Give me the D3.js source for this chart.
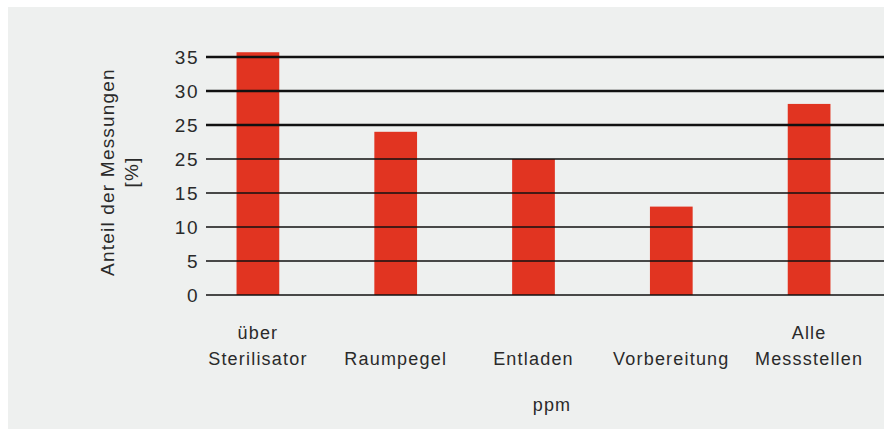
<!DOCTYPE html>
<html>
<head>
<meta charset="utf-8">
<script src="https://cdn.jsdelivr.net/npm/d3@7"></script>
<style>
  html, body { margin: 0; padding: 0; background: #fff; }
  text { font-family: "Liberation Sans", Arial, sans-serif; fill: #2a2a2a; letter-spacing: 1.2px; }
</style>
</head>
<body>
<div id="chart"></div>
<script>
// chart data
const categories = [["über", "Sterilisator"], ["Raumpegel"], ["Entladen"], ["Vorbereitung"], ["Alle", "Messstellen"]];
const values = [35.7, 24, 20, 13, 28.1];
const tickValues = [0, 5, 10, 15, 20, 25, 30, 35];
const tickLabels = ["0", "5", "10", "15", "25", "25", "30", "35"];
const thickTicks = [25, 30, 35];

const width = 884;
const height = 429;

const svg = d3.select("#chart").append("svg")
    .attr("width", width)
    .attr("height", height);

// grey panel
svg.append("rect")
    .attr("x", 8).attr("y", 7)
    .attr("width", width - 8).attr("height", height - 7)
    .attr("fill", "#eef0ef");

const x = d3.scaleBand()
    .domain(d3.range(categories.length))
    .range([189, 878])
    .paddingInner(0.69)
    .paddingOuter(0.345);

const y = d3.scaleLinear()
    .domain([0, 35])
    .range([295, 57]);

// bars
svg.selectAll(".bar")
    .data(values)
    .enter().append("rect")
    .attr("class", "bar")
    .attr("x", (d, i) => x(i))
    .attr("width", x.bandwidth())
    .attr("y", d => y(d))
    .attr("height", d => y(0) - y(d))
    .attr("fill", "#e13421");

// gridlines on top of the bars
svg.selectAll(".grid")
    .data(tickValues)
    .enter().append("line")
    .attr("class", "grid")
    .attr("x1", 206).attr("x2", width)
    .attr("y1", d => y(d)).attr("y2", d => y(d))
    .attr("stroke", "#111")
    .attr("stroke-width", d => thickTicks.includes(d) ? 2.6 : 1.4);

// tick labels
svg.selectAll(".tick-label")
    .data(tickValues)
    .enter().append("text")
    .attr("class", "tick-label")
    .attr("x", 199)
    .attr("y", d => y(d))
    .attr("dy", "0.35em")
    .attr("text-anchor", "end")
    .style("font-size", "19px")
    .style("letter-spacing", "1.5px")
    .text((d, i) => tickLabels[i]);

// category labels, last line on a common baseline
svg.selectAll(".cat")
    .data(categories)
    .enter().append("text")
    .attr("class", "cat")
    .attr("text-anchor", "middle")
    .style("font-size", "18px")
    .each(function (lines, i) {
        const cx = x(i) + x.bandwidth() / 2;
        d3.select(this).selectAll("tspan")
            .data(lines)
            .enter().append("tspan")
            .attr("x", cx)
            .attr("y", (t, j) => 365 - (lines.length - 1 - j) * 26)
            .text(t => t);
    });

// axis titles
svg.append("text")
    .attr("x", 552).attr("y", 411)
    .attr("text-anchor", "middle")
    .style("font-size", "18px")
    .text("ppm");

const yTitle = svg.append("text")
    .attr("transform", "translate(114,172) rotate(-90)")
    .attr("text-anchor", "middle")
    .style("font-size", "19px");
yTitle.append("tspan").attr("x", 0).attr("y", 0).text("Anteil der Messungen");
yTitle.append("tspan").attr("x", 0).attr("y", 24).text("[%]");
</script>
</body>
</html>
